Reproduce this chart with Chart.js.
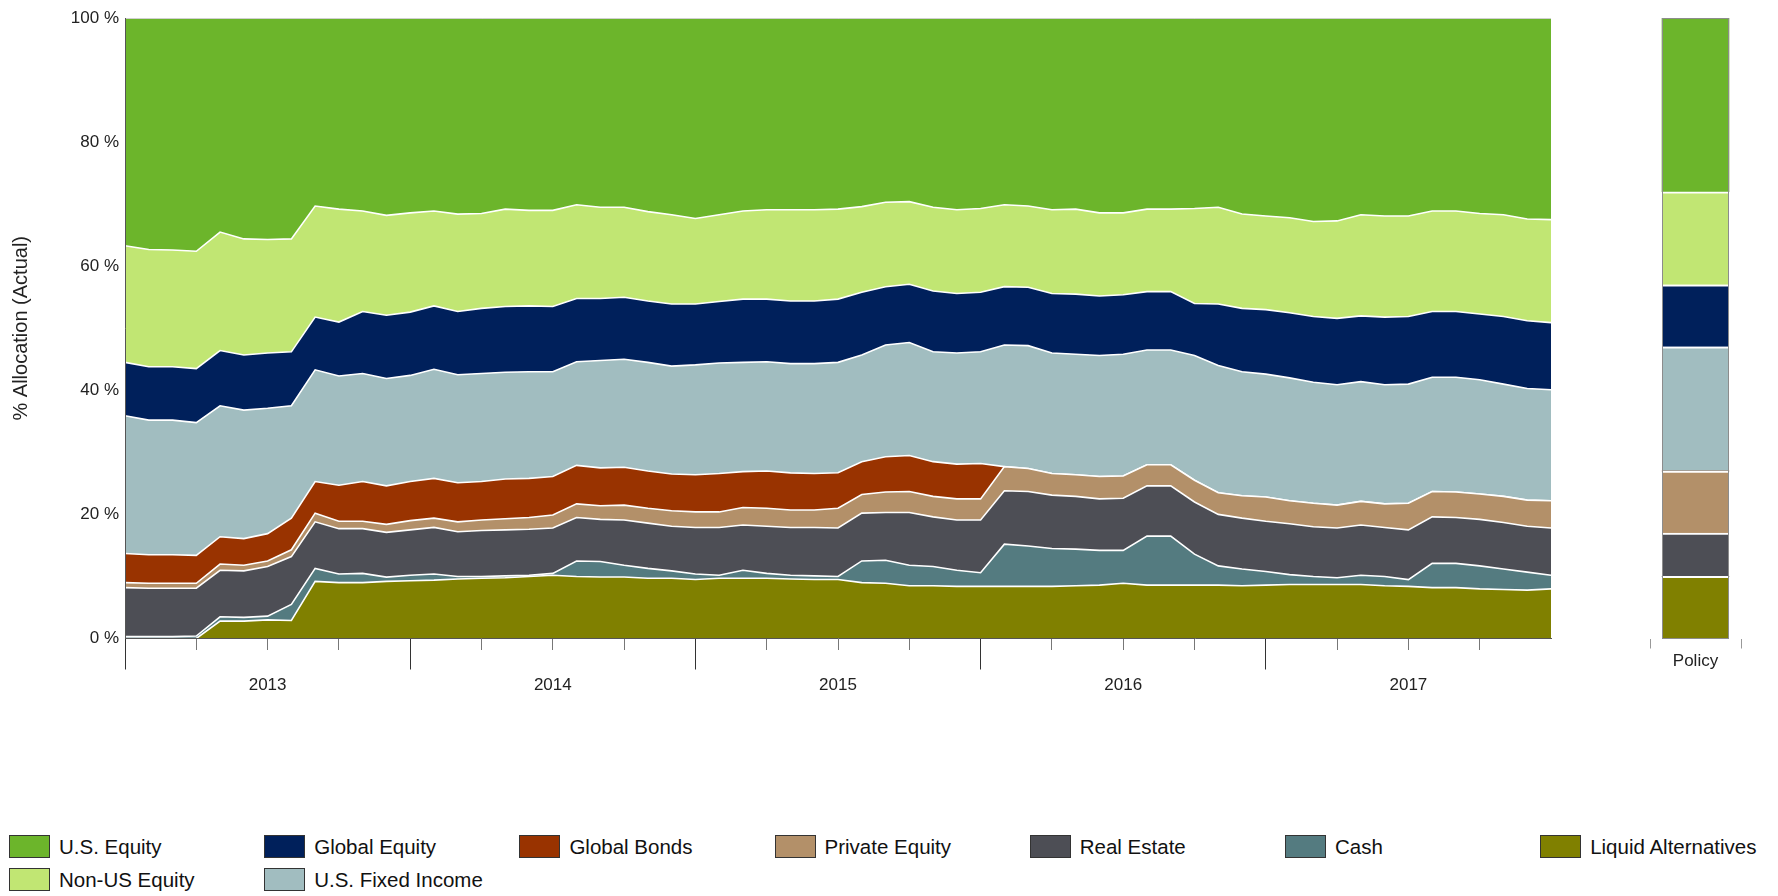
<!DOCTYPE html>
<html lang="en">
<head>
    <meta charset="UTF-8">
    <title>Asset Allocation History</title>
    <script src="https://cdn.jsdelivr.net/npm/chart.js"></script>
    <style>
        html, body {
            margin: 0;
            padding: 0;
            background: #fff;
        }
        #wrap {
            position: relative;
            width: 1778px;
            height: 896px;
            font-family: 'Liberation Sans', Arial, sans-serif;
        }
        #mainBox {
            position: absolute;
            left: 0;
            top: 0;
            width: 1560px;
            height: 720px;
        }
        #policyBox {
            position: absolute;
            left: 1600px;
            top: 0;
            width: 178px;
            height: 720px;
        }
        /* legend is plain html, two rows under the chart */
        #legend {
            position: absolute;
            left: 9px;
            top: 830px;
            display: grid;
            grid-template-columns: repeat(7, 255.2px);
            grid-auto-rows: 33px;
        }
        .item {
            display: flex;
            align-items: center;
            font-size: 20.5px;
            color: #111;
            white-space: nowrap;
        }
        .swatch {
            width: 39px;
            height: 21px;
            border: 1px solid #333;
            margin-right: 9px;
        }
    </style>
</head>
<body>
    <div id="wrap">
        <div id="mainBox"><canvas id="allocChart"></canvas></div>
        <div id="policyBox"><canvas id="policyChart"></canvas></div>
        <div id="legend"></div>
    </div>

    <script>
        // month ends, Dec 2012 .. Dec 2017
        const months = [
            'Dec 12',
            'Jan 13', 'Feb 13', 'Mar 13', 'Apr 13', 'May 13', 'Jun 13', 'Jul 13', 'Aug 13', 'Sep 13', 'Oct 13', 'Nov 13', 'Dec 13',
            'Jan 14', 'Feb 14', 'Mar 14', 'Apr 14', 'May 14', 'Jun 14', 'Jul 14', 'Aug 14', 'Sep 14', 'Oct 14', 'Nov 14', 'Dec 14',
            'Jan 15', 'Feb 15', 'Mar 15', 'Apr 15', 'May 15', 'Jun 15', 'Jul 15', 'Aug 15', 'Sep 15', 'Oct 15', 'Nov 15', 'Dec 15',
            'Jan 16', 'Feb 16', 'Mar 16', 'Apr 16', 'May 16', 'Jun 16', 'Jul 16', 'Aug 16', 'Sep 16', 'Oct 16', 'Nov 16', 'Dec 16',
            'Jan 17', 'Feb 17', 'Mar 17', 'Apr 17', 'May 17', 'Jun 17', 'Jul 17', 'Aug 17', 'Sep 17', 'Oct 17', 'Nov 17', 'Dec 17'
        ];
        const yearLabels = ['2013', '2014', '2015', '2016', '2017'];
        const policyLabel = ['Policy'];

        // % allocation per month, bottom of the stack first
        const liquidAlt = [0, 0, 0, 0, 2.8, 2.8, 3.0, 2.9, 9.2, 9.0, 9.0, 9.2, 9.3, 9.4, 9.6, 9.7, 9.8, 10.0, 10.2, 10.0, 9.9, 9.9, 9.7, 9.7, 9.5, 9.7, 9.7, 9.7, 9.6, 9.5, 9.5, 9.0, 8.9, 8.5, 8.5, 8.4, 8.4, 8.4, 8.4, 8.4, 8.5, 8.6, 8.9, 8.6, 8.6, 8.6, 8.6, 8.5, 8.6, 8.7, 8.7, 8.7, 8.7, 8.5, 8.4, 8.2, 8.2, 8.0, 7.9, 7.8, 8.0];
        const cash = [0.3, 0.3, 0.3, 0.4, 0.7, 0.6, 0.6, 2.6, 2.1, 1.4, 1.5, 0.7, 0.9, 1.0, 0.4, 0.3, 0.3, 0.2, 0.3, 2.5, 2.5, 1.9, 1.6, 1.2, 0.9, 0.5, 1.3, 0.8, 0.6, 0.6, 0.5, 3.5, 3.7, 3.3, 3.1, 2.6, 2.2, 6.8, 6.5, 6.1, 5.9, 5.6, 5.3, 7.9, 7.9, 5.0, 3.1, 2.7, 2.2, 1.6, 1.3, 1.1, 1.5, 1.5, 1.1, 3.9, 3.9, 3.7, 3.3, 2.9, 2.2];
        const realEstate = [7.9, 7.8, 7.8, 7.7, 7.5, 7.5, 8.0, 7.7, 7.5, 7.3, 7.2, 7.2, 7.3, 7.5, 7.2, 7.4, 7.4, 7.4, 7.3, 7.0, 6.8, 7.3, 7.3, 7.2, 7.5, 7.7, 7.3, 7.6, 7.7, 7.8, 7.8, 7.7, 7.7, 8.5, 8.0, 8.1, 8.5, 8.6, 8.8, 8.6, 8.5, 8.3, 8.4, 8.1, 8.1, 8.4, 8.3, 8.2, 8.1, 8.2, 8.0, 8.0, 8.1, 7.9, 8.0, 7.5, 7.4, 7.5, 7.5, 7.4, 7.6];
        const privateEquity = [0.8, 0.8, 0.8, 0.8, 1.0, 0.9, 0.9, 1.1, 1.4, 1.2, 1.2, 1.3, 1.5, 1.5, 1.6, 1.7, 1.8, 1.9, 2.1, 2.2, 2.2, 2.4, 2.4, 2.5, 2.5, 2.5, 2.8, 2.9, 2.8, 2.8, 3.2, 3.0, 3.3, 3.4, 3.3, 3.4, 3.4, 3.9, 3.7, 3.5, 3.5, 3.6, 3.6, 3.4, 3.4, 3.5, 3.5, 3.6, 3.9, 3.7, 3.8, 3.7, 3.8, 3.8, 4.3, 4.1, 4.1, 4.1, 4.2, 4.2, 4.4];
        const globalBonds = [4.7, 4.6, 4.6, 4.5, 4.4, 4.3, 4.4, 5.1, 5.1, 5.8, 6.4, 6.2, 6.3, 6.4, 6.3, 6.2, 6.4, 6.3, 6.2, 6.2, 6.1, 6.1, 6.0, 5.9, 6.0, 6.2, 5.8, 6.0, 6.0, 5.9, 5.7, 5.3, 5.7, 5.8, 5.6, 5.6, 5.7, 0, 0, 0, 0, 0, 0, 0, 0, 0, 0, 0, 0, 0, 0, 0, 0, 0, 0, 0, 0, 0, 0, 0, 0];
        const usFixedIncome = [22.2, 21.7, 21.7, 21.4, 21.1, 20.7, 20.2, 18.1, 18.0, 17.6, 17.4, 17.3, 17.1, 17.6, 17.4, 17.4, 17.2, 17.2, 16.9, 16.7, 17.3, 17.4, 17.5, 17.4, 17.7, 17.8, 17.6, 17.6, 17.6, 17.7, 17.8, 17.2, 18.0, 18.2, 17.7, 17.9, 18.0, 19.6, 19.8, 19.4, 19.4, 19.5, 19.6, 18.5, 18.5, 20.1, 20.5, 20.0, 19.8, 19.8, 19.5, 19.4, 19.3, 19.2, 19.2, 18.4, 18.5, 18.4, 18.1, 18.0, 17.9];
        const globalEquity = [8.6, 8.6, 8.6, 8.7, 8.9, 8.9, 8.9, 8.7, 8.5, 8.7, 10.0, 10.2, 10.2, 10.2, 10.2, 10.5, 10.6, 10.6, 10.5, 10.2, 10.0, 10.0, 9.9, 10.0, 9.8, 9.9, 10.2, 10.1, 10.1, 10.1, 10.2, 10.1, 9.4, 9.4, 9.8, 9.6, 9.6, 9.4, 9.4, 9.6, 9.7, 9.6, 9.6, 9.4, 9.4, 8.4, 9.9, 10.2, 10.4, 10.5, 10.6, 10.7, 10.6, 10.9, 10.9, 10.6, 10.6, 10.6, 10.9, 10.9, 10.8];
        const nonUsEquity = [18.8, 18.9, 18.8, 18.9, 19.1, 18.7, 18.3, 18.2, 17.9, 18.2, 16.2, 16.1, 16.0, 15.3, 15.7, 15.3, 15.7, 15.4, 15.5, 15.1, 14.7, 14.5, 14.4, 14.4, 13.8, 14.0, 14.2, 14.4, 14.7, 14.7, 14.5, 13.8, 13.6, 13.3, 13.5, 13.5, 13.5, 13.2, 13.1, 13.5, 13.7, 13.4, 13.2, 13.3, 13.3, 15.3, 15.6, 15.2, 15.1, 15.3, 15.3, 15.7, 16.3, 16.3, 16.2, 16.2, 16.2, 16.2, 16.4, 16.4, 16.6];
        const usEquity = [36.7, 37.3, 37.4, 37.6, 34.5, 35.6, 35.7, 35.6, 30.3, 30.8, 31.1, 31.8, 31.4, 31.1, 31.6, 31.5, 30.8, 31.0, 31.0, 30.1, 30.5, 30.5, 31.2, 31.7, 32.3, 31.7, 31.1, 30.9, 30.9, 30.9, 30.8, 30.4, 29.7, 29.6, 30.5, 30.9, 30.7, 30.1, 30.3, 30.9, 30.8, 31.4, 31.4, 30.8, 30.8, 30.7, 30.5, 31.6, 31.9, 32.2, 32.8, 32.7, 31.7, 31.9, 31.9, 31.1, 31.1, 31.5, 31.7, 32.4, 32.5];

        // policy targets, same order as above
        const policyAlloc = [10, 0, 7, 10, 0, 20, 10, 15, 28];

        const seriesNames = ['Liquid Alternatives', 'Cash', 'Real Estate', 'Private Equity', 'Global Bonds', 'U.S. Fixed Income', 'Global Equity', 'Non-US Equity', 'U.S. Equity'];
        const seriesValues = [liquidAlt, cash, realEstate, privateEquity, globalBonds, usFixedIncome, globalEquity, nonUsEquity, usEquity];
        const colors = ['#808000', '#547b80', '#4d4e55', '#b39069', '#993300', '#a1bdc0', '#00205b', '#c1e673', '#6cb52b'];

        Chart.defaults.font.family = "'Liberation Sans', Arial, sans-serif";
        Chart.defaults.color = '#222';

        // stacked areas
        var allocChart = new Chart(document.getElementById('allocChart'), {
            type: 'line',
            data: {
                labels: months,
                datasets: seriesNames.map(function (name, k) {
                    return {
                        label: name,
                        data: seriesValues[k],
                        backgroundColor: colors[k],
                        borderColor: '#ffffff',
                        borderWidth: 1.6,
                        pointRadius: 0,
                        tension: 0,
                        fill: k === 0 ? 'origin' : '-1'
                    };
                })
            },
            options: {
                responsive: true,
                maintainAspectRatio: false,
                animation: false,
                layout: { padding: { top: 18, right: 9, left: 0, bottom: 0 } },
                plugins: {
                    legend: { display: false },
                    tooltip: { enabled: false }
                },
                scales: {
                    x: {
                        type: 'category',
                        offset: false,
                        grid: {
                            drawOnChartArea: false,
                            tickLength: 31,
                            tickWidth: 1,
                            // quarter ticks short, year ticks long
                            tickColor: function (c) {
                                if (c.index % 3 !== 0 || c.index >= 60) return 'transparent';
                                return c.index % 12 === 0 ? '#333' : '#777';
                            },
                            tickBorderDash: function (c) {
                                return c.index % 12 === 0 ? [] : [11, 60];
                            }
                        },
                        border: { color: '#555', z: 1 },
                        ticks: {
                            autoSkip: false,
                            maxRotation: 0,
                            padding: 6,
                            font: { size: 17 },
                            callback: function (v, i) {
                                return i % 12 === 6 ? yearLabels[(i - 6) / 12] : '';
                            }
                        },
                        afterFit: function (s) { s.height = 81.5; }
                    },
                    y: {
                        stacked: true,
                        min: 0,
                        max: 100,
                        ticks: {
                            stepSize: 20,
                            padding: 6,
                            font: { size: 17 },
                            callback: function (v) { return v + ' %'; }
                        },
                        grid: {
                            drawTicks: false,
                            z: 1,
                            color: function (c) {
                                return c.tick && c.tick.value === 100 ? '#d0d0d0' : 'transparent';
                            }
                        },
                        border: { color: '#555', z: 1 },
                        title: {
                            display: true,
                            text: '% Allocation (Actual)',
                            font: { size: 20 },
                            padding: { top: 9, bottom: 0 }
                        },
                        afterFit: function (s) { s.width = 125; }
                    }
                }
            }
        });

        // grey outline round the policy bar
        const policyFrame = {
            id: 'policyFrame',
            afterDatasetsDraw: function (chart) {
                var bar = chart.getDatasetMeta(0).data[0];
                var y = chart.scales.y;
                var top = Math.round(y.getPixelForValue(100)) + 0.5;
                var bottom = Math.round(y.getPixelForValue(0)) - 0.5;
                var left = Math.round(bar.x - bar.width / 2) + 0.5;
                var ctx = chart.ctx;
                ctx.save();
                ctx.strokeStyle = '#8c8c8c';
                ctx.lineWidth = 1;
                ctx.strokeRect(left, top, Math.round(bar.width) - 1, bottom - top);
                ctx.restore();
            }
        };

        var policyChart = new Chart(document.getElementById('policyChart'), {
            type: 'bar',
            data: {
                labels: policyLabel,
                datasets: seriesNames.map(function (name, k) {
                    return {
                        label: name,
                        data: [policyAlloc[k]],
                        backgroundColor: colors[k],
                        borderColor: '#ffffff',
                        // white divider on top of each block, none on the top block
                        borderWidth: { top: k === seriesNames.length - 1 ? 0 : 2, right: 0, bottom: 0, left: 0 },
                        borderSkipped: false,
                        barThickness: 67
                    };
                })
            },
            options: {
                responsive: true,
                maintainAspectRatio: false,
                animation: false,
                layout: { padding: { top: 18, left: 50, right: 37, bottom: 0 } },
                plugins: {
                    legend: { display: false },
                    tooltip: { enabled: false }
                },
                scales: {
                    x: {
                        stacked: true,
                        grid: { drawOnChartArea: false, tickLength: 10, tickColor: '#999' },
                        border: { display: false },
                        ticks: { padding: 3, font: { size: 17 } },
                        afterFit: function (s) { s.height = 81.5; }
                    },
                    y: {
                        stacked: true,
                        display: false,
                        min: 0,
                        max: 100
                    }
                }
            },
            plugins: [policyFrame]
        });

        // legend: U.S. Equity row first, Non-US / Fixed Income under the first two
        var legendOrder = ['U.S. Equity', 'Global Equity', 'Global Bonds', 'Private Equity', 'Real Estate', 'Cash', 'Liquid Alternatives', 'Non-US Equity', 'U.S. Fixed Income'];
        var legend = document.getElementById('legend');
        legendOrder.forEach(function (name, n) {
            var k = seriesNames.indexOf(name);
            var item = document.createElement('div');
            item.className = 'item';
            item.style.gridColumn = n < 7 ? (n + 1) : (n - 6);
            item.style.gridRow = n < 7 ? 1 : 2;
            item.innerHTML = '<span class="swatch" style="background:' + colors[k] + '"></span>' + name;
            legend.appendChild(item);
        });
    </script>
</body>
</html>
